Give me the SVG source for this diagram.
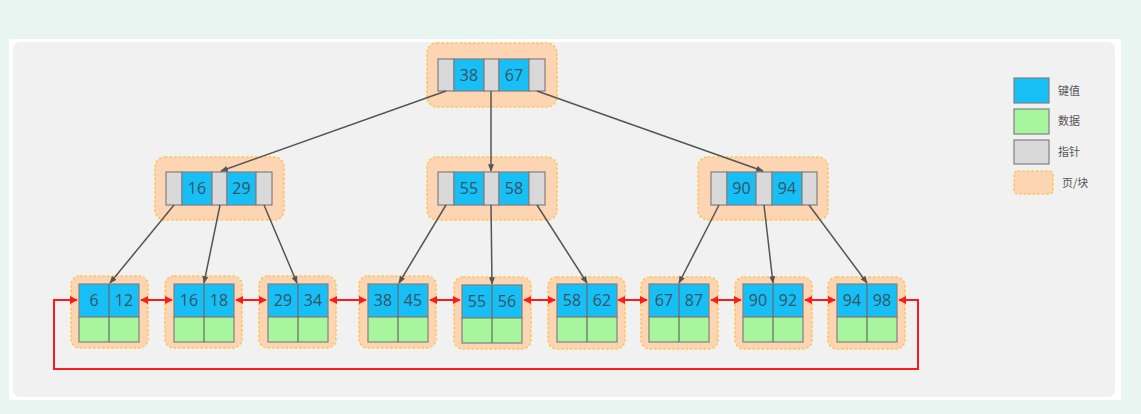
<svg xmlns="http://www.w3.org/2000/svg" width="1141" height="414" viewBox="0 0 1141 414">
<defs>
<style>
.page{fill:#fdd5b2;stroke:#ffc453;stroke-width:1.6;stroke-dasharray:2.5 2}
.key{fill:#17bff7;stroke:#808080;stroke-width:1.2}
.ptr{fill:#d9d9d9;stroke:#808080;stroke-width:1.2}
.dat{fill:#a7f59c;stroke:#808080;stroke-width:1.2}
.div{stroke:#6a6a6a;stroke-width:1.2}
.num{font-family:"Open Sans","DejaVu Sans",sans-serif;font-size:16px;fill:#36535f;text-anchor:middle}
.lg{font-family:"Noto Sans CJK SC",sans-serif;font-size:11px;fill:#555}
.edge{stroke:#555;stroke-width:1.5;fill:none}
.link{stroke:#ff1a1a;stroke-width:2;fill:none}
</style>
<marker id="ah" viewBox="0 0 10 10" refX="9" refY="5" markerWidth="5" markerHeight="5" orient="auto" markerUnits="strokeWidth"><path d="M0,1 L10,5 L0,9 z" fill="#555"/></marker>
<marker id="re" viewBox="0 0 10 10" refX="9" refY="5" markerWidth="4" markerHeight="4" orient="auto" markerUnits="strokeWidth"><path d="M0,0 L10,5 L0,10 z" fill="#ff1a1a"/></marker>
<marker id="rs" viewBox="0 0 10 10" refX="1" refY="5" markerWidth="4" markerHeight="4" orient="auto" markerUnits="strokeWidth"><path d="M10,0 L0,5 L10,10 z" fill="#ff1a1a"/></marker>
</defs>
<rect x="0" y="0" width="1141" height="414" fill="#e9f5f1"/>
<rect x="9" y="39" width="1112" height="361" fill="#ffffff"/>
<rect x="13" y="42" width="1102" height="355" rx="7" fill="#f1f1f1"/>

<g id="root">
<rect class="page" x="427" y="43" width="130" height="64" rx="10"/>
<rect class="ptr" x="438" y="59" width="16" height="32"/>
<rect class="key" x="454" y="59" width="30" height="32"/>
<rect class="ptr" x="484" y="59" width="15" height="32"/>
<rect class="key" x="499" y="59" width="30" height="32"/>
<rect class="ptr" x="529" y="59" width="16" height="32"/>
<text class="num" x="469" y="81">38</text>
<text class="num" x="514" y="81">67</text>
</g>

<g id="n16_29">
<rect class="page" x="155" y="157" width="129" height="63" rx="10"/>
<rect class="ptr" x="166" y="172" width="16" height="33"/>
<rect class="key" x="182" y="172" width="30" height="33"/>
<rect class="ptr" x="212" y="172" width="15" height="33"/>
<rect class="key" x="227" y="172" width="29" height="33"/>
<rect class="ptr" x="256" y="172" width="16" height="33"/>
<text class="num" x="197" y="194">16</text>
<text class="num" x="241.5" y="194">29</text>
</g>

<g id="n55_58">
<rect class="page" x="427" y="157" width="130" height="63" rx="10"/>
<rect class="ptr" x="438" y="172" width="16" height="33"/>
<rect class="key" x="454" y="172" width="30" height="33"/>
<rect class="ptr" x="484" y="172" width="15" height="33"/>
<rect class="key" x="499" y="172" width="30" height="33"/>
<rect class="ptr" x="529" y="172" width="16" height="33"/>
<text class="num" x="469" y="194">55</text>
<text class="num" x="514" y="194">58</text>
</g>

<g id="n90_94">
<rect class="page" x="698" y="157" width="130" height="63" rx="10"/>
<rect class="ptr" x="711" y="172" width="16" height="33"/>
<rect class="key" x="727" y="172" width="29" height="33"/>
<rect class="ptr" x="756" y="172" width="16" height="33"/>
<rect class="key" x="772" y="172" width="30" height="33"/>
<rect class="ptr" x="802" y="172" width="15" height="33"/>
<text class="num" x="741.5" y="194">90</text>
<text class="num" x="787" y="194">94</text>
</g>

<g id="leaf1">
<rect class="page" x="71" y="276" width="77" height="72" rx="9"/>
<rect class="key" x="79" y="284" width="60" height="33"/>
<rect class="dat" x="79" y="317" width="60" height="25"/>
<line class="div" x1="109" y1="284" x2="109" y2="342"/>
<text class="num" x="94" y="306">6</text><text class="num" x="124" y="306">12</text>
</g>
<g id="leaf2">
<rect class="page" x="165" y="276" width="77" height="72" rx="9"/>
<rect class="key" x="174" y="284" width="60" height="33"/>
<rect class="dat" x="174" y="317" width="60" height="25"/>
<line class="div" x1="204" y1="284" x2="204" y2="342"/>
<text class="num" x="189" y="306">16</text><text class="num" x="219" y="306">18</text>
</g>
<g id="leaf3">
<rect class="page" x="259" y="276" width="77" height="72" rx="9"/>
<rect class="key" x="268" y="284" width="60" height="33"/>
<rect class="dat" x="268" y="317" width="60" height="25"/>
<line class="div" x1="298" y1="284" x2="298" y2="342"/>
<text class="num" x="283" y="306">29</text><text class="num" x="313" y="306">34</text>
</g>
<g id="leaf4">
<rect class="page" x="359" y="276" width="77" height="72" rx="9"/>
<rect class="key" x="368" y="284" width="60" height="33"/>
<rect class="dat" x="368" y="317" width="60" height="25"/>
<line class="div" x1="398" y1="284" x2="398" y2="342"/>
<text class="num" x="383" y="306">38</text><text class="num" x="413" y="306">45</text>
</g>
<g id="leaf5">
<rect class="page" x="454" y="277" width="77" height="72" rx="9"/>
<rect class="key" x="462" y="285" width="60" height="33"/>
<rect class="dat" x="462" y="318" width="60" height="25"/>
<line class="div" x1="492" y1="285" x2="492" y2="343"/>
<text class="num" x="477" y="307">55</text><text class="num" x="507" y="307">56</text>
</g>
<g id="leaf6">
<rect class="page" x="548" y="277" width="77" height="72" rx="9"/>
<rect class="key" x="557" y="284" width="60" height="33"/>
<rect class="dat" x="557" y="317" width="60" height="25"/>
<line class="div" x1="587" y1="284" x2="587" y2="342"/>
<text class="num" x="572" y="306">58</text><text class="num" x="602" y="306">62</text>
</g>
<g id="leaf7">
<rect class="page" x="641" y="277" width="77" height="72" rx="9"/>
<rect class="key" x="649" y="284" width="60" height="33"/>
<rect class="dat" x="649" y="317" width="60" height="25"/>
<line class="div" x1="679" y1="284" x2="679" y2="342"/>
<text class="num" x="664" y="306">67</text><text class="num" x="694" y="306">87</text>
</g>
<g id="leaf8">
<rect class="page" x="735" y="277" width="77" height="72" rx="9"/>
<rect class="key" x="743" y="284" width="60" height="33"/>
<rect class="dat" x="743" y="317" width="60" height="25"/>
<line class="div" x1="773" y1="284" x2="773" y2="342"/>
<text class="num" x="758" y="306">90</text><text class="num" x="788" y="306">92</text>
</g>
<g id="leaf9">
<rect class="page" x="828" y="277" width="77" height="72" rx="9"/>
<rect class="key" x="837" y="284" width="60" height="33"/>
<rect class="dat" x="837" y="317" width="60" height="25"/>
<line class="div" x1="867" y1="284" x2="867" y2="342"/>
<text class="num" x="852" y="306">94</text><text class="num" x="882" y="306">98</text>
</g>

<g id="legend">
<rect class="key" x="1014" y="78" width="35" height="25"/>
<rect class="dat" x="1014" y="109" width="35" height="25"/>
<rect class="ptr" x="1014" y="140" width="35" height="24"/>
<rect class="page" x="1014" y="171" width="39" height="23" rx="4"/>
<text class="lg" x="1058" y="95">键值</text>
<text class="lg" x="1058" y="125">数据</text>
<text class="lg" x="1058" y="156">指针</text>
<text class="lg" x="1062" y="187">页/块</text>
</g>

<g id="connectors">
<line class="edge" x1="446" y1="91" x2="221" y2="171" marker-end="url(#ah)"/>
<line class="edge" x1="491" y1="91" x2="491" y2="171" marker-end="url(#ah)"/>
<line class="edge" x1="537" y1="91" x2="763" y2="171" marker-end="url(#ah)"/>
<line class="edge" x1="174" y1="205" x2="110" y2="283" marker-end="url(#ah)"/>
<line class="edge" x1="220" y1="205" x2="204" y2="283" marker-end="url(#ah)"/>
<line class="edge" x1="264" y1="205" x2="297" y2="283" marker-end="url(#ah)"/>
<line class="edge" x1="446" y1="205" x2="399" y2="283" marker-end="url(#ah)"/>
<line class="edge" x1="491" y1="205" x2="492" y2="284" marker-end="url(#ah)"/>
<line class="edge" x1="537" y1="205" x2="587" y2="283" marker-end="url(#ah)"/>
<line class="edge" x1="719" y1="205" x2="679" y2="283" marker-end="url(#ah)"/>
<line class="edge" x1="764" y1="205" x2="773" y2="283" marker-end="url(#ah)"/>
<line class="edge" x1="809" y1="205" x2="867" y2="283" marker-end="url(#ah)"/>
<line class="link" x1="141" y1="300" x2="172" y2="300" marker-start="url(#rs)" marker-end="url(#re)"/>
<line class="link" x1="236" y1="300" x2="266" y2="300" marker-start="url(#rs)" marker-end="url(#re)"/>
<line class="link" x1="330" y1="300" x2="366" y2="300" marker-start="url(#rs)" marker-end="url(#re)"/>
<line class="link" x1="430" y1="300" x2="460" y2="300" marker-start="url(#rs)" marker-end="url(#re)"/>
<line class="link" x1="524" y1="300" x2="555" y2="300" marker-start="url(#rs)" marker-end="url(#re)"/>
<line class="link" x1="618" y1="300" x2="647" y2="300" marker-start="url(#rs)" marker-end="url(#re)"/>
<line class="link" x1="711" y1="300" x2="741" y2="300" marker-start="url(#rs)" marker-end="url(#re)"/>
<line class="link" x1="805" y1="300" x2="835" y2="300" marker-start="url(#rs)" marker-end="url(#re)"/>
<polyline class="link" points="899,300 918,300 918,369 54,369 54,300 77,300" marker-start="url(#rs)" marker-end="url(#re)"/>
</g>
</svg>
